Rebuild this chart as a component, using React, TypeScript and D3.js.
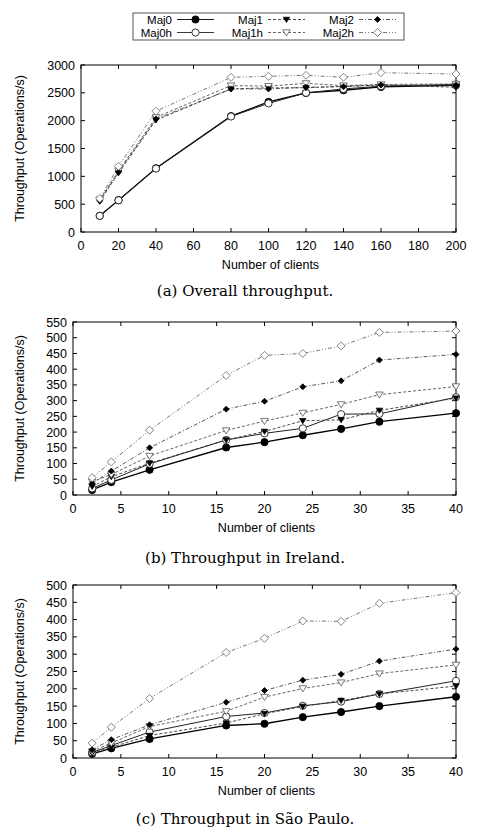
import React, { useEffect, useRef } from 'react';
import * as d3 from 'd3';

// client counts per chart
const clientsOverall = [10, 20, 40, 80, 100, 120, 140, 160, 200];
const clientsRegion = [2, 4, 8, 16, 20, 24, 28, 32, 40];

// (a) overall throughput
const overallMaj0 = [292, 572, 1145, 2081, 2337, 2498, 2546, 2606, 2636];
const overallMaj0h = [290, 570, 1140, 2075, 2310, 2500, 2570, 2620, 2650];
const overallMaj1 = [549, 1060, 2010, 2570, 2590, 2590, 2620, 2640, 2600];
const overallMaj1h = [580, 1100, 2060, 2630, 2620, 2670, 2630, 2650, 2660];
const overallMaj2 = [560, 1080, 2030, 2570, 2570, 2600, 2610, 2640, 2640];
const overallMaj2h = [600, 1180, 2170, 2779, 2797, 2815, 2779, 2862, 2838];

// (b) Ireland
const irelandMaj0 = [16, 41, 80, 151, 168, 190, 210, 233, 260];
const irelandMaj0h = [21, 48, 99, 175, 196, 212, 257, 258, 311];
const irelandMaj1 = [27, 58, 101, 175, 202, 236, 239, 269, 308];
const irelandMaj1h = [42, 65, 124, 205, 235, 261, 288, 319, 345];
const irelandMaj2 = [37, 76, 150, 273, 298, 344, 363, 429, 447];
const irelandMaj2h = [55, 105, 206, 380, 444, 450, 474, 517, 521];

// (c) Sao Paulo
const saoPauloMaj0 = [12, 28, 55, 94, 99, 118, 133, 150, 177];
const saoPauloMaj0h = [16, 36, 75, 120, 130, 151, 163, 185, 223];
const saoPauloMaj1 = [14, 31, 65, 101, 128, 149, 166, 185, 208];
const saoPauloMaj1h = [19, 43, 91, 135, 176, 201, 218, 244, 269];
const saoPauloMaj2 = [24, 53, 96, 161, 195, 225, 242, 280, 315];
const saoPauloMaj2h = [43, 89, 172, 305, 346, 396, 395, 447, 478];

const seriesNames = ['Maj0', 'Maj0h', 'Maj1', 'Maj1h', 'Maj2', 'Maj2h'];
const overallTicksX = [0, 20, 40, 60, 80, 100, 120, 140, 160, 180, 200];
const regionTicksX = [0, 5, 10, 15, 20, 25, 30, 35, 40];

const styles: any = {
  Maj0: { stroke: '#000', dash: null, marker: 'circle', fill: true, width: 1.3 },
  Maj0h: { stroke: '#222', dash: null, marker: 'circle', fill: false, width: 1 },
  Maj1: { stroke: '#333', dash: '3,2', marker: 'tri', fill: true, width: 0.9 },
  Maj1h: { stroke: '#555', dash: '3,2', marker: 'tri', fill: false, width: 0.9 },
  Maj2: { stroke: '#444', dash: '4,2,1,2', marker: 'diamond', fill: true, width: 0.9 },
  Maj2h: { stroke: '#666', dash: '4,2,1,2,1,2', marker: 'diamond', fill: false, width: 0.9 },
};

const panels = [
  {
    x: clientsOverall, series: [overallMaj0, overallMaj0h, overallMaj1, overallMaj1h, overallMaj2, overallMaj2h],
    xMax: 200, yMax: 3000, yStep: 500, xTicks: overallTicksX,
    left: 81, right: 456, top: 65, bottom: 232, caption: '(a) Overall throughput.', capY: 296,
  },
  {
    x: clientsRegion, series: [irelandMaj0, irelandMaj0h, irelandMaj1, irelandMaj1h, irelandMaj2, irelandMaj2h],
    xMax: 40, yMax: 550, yStep: 50, xTicks: regionTicksX,
    left: 73, right: 456, top: 322, bottom: 495, caption: '(b) Throughput in Ireland.', capY: 563,
  },
  {
    x: clientsRegion, series: [saoPauloMaj0, saoPauloMaj0h, saoPauloMaj1, saoPauloMaj1h, saoPauloMaj2, saoPauloMaj2h],
    xMax: 40, yMax: 500, yStep: 50, xTicks: regionTicksX,
    left: 73, right: 456, top: 585, bottom: 758, caption: '(c) Throughput in São Paulo.', capY: 824,
  },
];

const sans = "'Liberation Sans', Arial, sans-serif";

function drawMarker(g: any, name: string, cx: number, cy: number) {
  const s = styles[name];
  const fill = s.fill ? '#000' : '#fff';
  const stroke = s.fill ? '#000' : s.stroke;
  if (s.marker === 'circle') {
    g.append('circle').attr('cx', cx).attr('cy', cy).attr('r', 3.6)
      .attr('fill', fill).attr('stroke', stroke).attr('stroke-width', 0.9);
  } else if (s.marker === 'tri') {
    const r = s.fill ? 3.2 : 3.8;
    g.append('path')
      .attr('d', `M${cx - r},${cy - r * 0.7}L${cx + r},${cy - r * 0.7}L${cx},${cy + r * 0.9}Z`)
      .attr('fill', fill).attr('stroke', stroke).attr('stroke-width', 0.8);
  } else {
    const r = s.fill ? 3 : 4;
    g.append('path')
      .attr('d', `M${cx},${cy - r}L${cx + r},${cy}L${cx},${cy + r}L${cx - r},${cy}Z`)
      .attr('fill', fill).attr('stroke', stroke).attr('stroke-width', 0.8);
  }
}

export default function App() {
  const ref = useRef<SVGSVGElement>(null);

  useEffect(() => {
    const svg = d3.select(ref.current);
    svg.selectAll('*').remove();

    // legend
    const lg = svg.append('g');
    lg.append('rect').attr('x', 133).attr('y', 13).attr('width', 271).attr('height', 27)
      .attr('fill', 'none').attr('stroke', '#555').attr('stroke-width', 1);
    seriesNames.forEach((name, i) => {
      const col = Math.floor(i / 2);
      const row = i % 2;
      const tx = 172 + col * 91;
      const ty = 19.5 + row * 13;
      const s = styles[name];
      lg.append('text').attr('x', tx).attr('y', ty + 4).attr('text-anchor', 'end')
        .attr('font-family', sans).attr('font-size', 11.5).text(name);
      lg.append('line').attr('x1', tx + 5).attr('x2', tx + 42).attr('y1', ty).attr('y2', ty)
        .attr('stroke', s.stroke).attr('stroke-width', 0.9).attr('stroke-dasharray', s.dash);
      drawMarker(lg, name, tx + 23.5, ty);
    });

    panels.forEach((p) => {
      const g = svg.append('g');
      const x = d3.scaleLinear().domain([0, p.xMax]).range([p.left, p.right]);
      const y = d3.scaleLinear().domain([0, p.yMax]).range([p.bottom, p.top]);
      const yTicks = d3.range(0, p.yMax + 1, p.yStep);

      // ticks (inward, mirrored)
      yTicks.forEach((t) => {
        g.append('line').attr('x1', p.left).attr('x2', p.left + 4).attr('y1', y(t)).attr('y2', y(t)).attr('stroke', '#000');
        g.append('line').attr('x1', p.right).attr('x2', p.right - 4).attr('y1', y(t)).attr('y2', y(t)).attr('stroke', '#000');
        g.append('text').attr('x', p.left - 6).attr('y', y(t) + 4.5).attr('text-anchor', 'end')
          .attr('font-family', sans).attr('font-size', 12.5).text(t);
      });
      p.xTicks.forEach((t) => {
        g.append('line').attr('x1', x(t)).attr('x2', x(t)).attr('y1', p.bottom).attr('y2', p.bottom - 4).attr('stroke', '#000');
        g.append('line').attr('x1', x(t)).attr('x2', x(t)).attr('y1', p.top).attr('y2', p.top + 4).attr('stroke', '#000');
        g.append('text').attr('x', x(t)).attr('y', p.bottom + 18).attr('text-anchor', 'middle')
          .attr('font-family', sans).attr('font-size', 12.5).text(t);
      });

      g.append('rect').attr('x', p.left).attr('y', p.top).attr('width', p.right - p.left)
        .attr('height', p.bottom - p.top).attr('fill', 'none').attr('stroke', '#000').attr('stroke-width', 1);

      const line = d3.line<number>().x((_, i) => x(p.x[i])).y((d) => y(d));
      p.series.forEach((vals, si) => {
        const s = styles[seriesNames[si]];
        g.append('path').attr('d', line(vals)).attr('fill', 'none').attr('stroke', s.stroke)
          .attr('stroke-width', s.width).attr('stroke-dasharray', s.dash);
      });
      p.series.forEach((vals, si) => {
        vals.forEach((v, i) => drawMarker(g, seriesNames[si], x(p.x[i]), y(v)));
      });

      g.append('text').attr('x', (p.left + p.right) / 2 + 2).attr('y', p.bottom + 37)
        .attr('text-anchor', 'middle').attr('font-family', sans).attr('font-size', 12.5).text('Number of clients');
      const cy = (p.top + p.bottom) / 2;
      g.append('text').attr('transform', `translate(24,${cy}) rotate(-90)`)
        .attr('text-anchor', 'middle').attr('font-family', sans).attr('font-size', 12.5)
        .text('Throughput (Operations/s)');
      g.append('text').attr('x', 245).attr('y', p.capY).attr('text-anchor', 'middle')
        .attr('font-family', "'DejaVu Serif', 'Liberation Serif', serif").attr('font-size', 15).text(p.caption);
    });
  }, []);

  return (
    <svg ref={ref} width={496} height={833}
      style={{ position: 'absolute', left: 0, top: 0, background: '#fff' }} />
  );
}
